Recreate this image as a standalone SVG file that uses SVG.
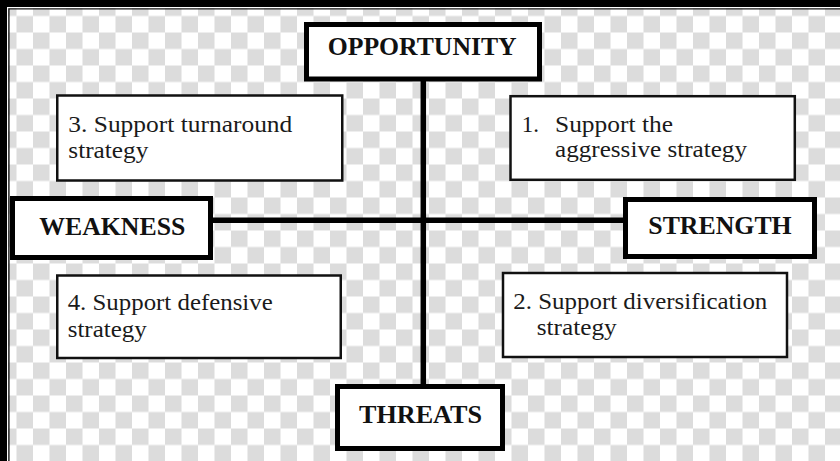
<svg xmlns="http://www.w3.org/2000/svg" width="840" height="461" viewBox="0 0 840 461">
  <defs>
    <pattern id="checker" patternUnits="userSpaceOnUse" x="0" y="-0.5" width="33" height="33">
      <rect width="33" height="33" fill="#ffffff"/>
      <rect x="0" y="0" width="16.5" height="16.5" fill="#dcdcdc"/>
      <rect x="16.5" y="16.5" width="16.5" height="16.5" fill="#dcdcdc"/>
    </pattern>
  </defs>
  <style>
    .main rect { fill: #ffffff; stroke: #000000; stroke-width: 5; }
    .sub rect { fill: #ffffff; stroke: #111111; stroke-width: 2.5; }
    .title { font-family: "Liberation Serif", "Times New Roman", serif; font-weight: bold; font-size: 25.5px; fill: #111111; }
    .label { font-family: "Liberation Serif", "Times New Roman", serif; font-size: 23px; fill: #1a1a1a; }
    .conn { stroke: #000000; stroke-width: 5.5; fill: none; }
  </style>

  <!-- background -->
  <rect x="0" y="0" width="840" height="461" fill="url(#checker)"/>
  <rect x="0" y="0" width="840" height="7" fill="#000000"/>
  <rect x="0" y="0" width="7" height="461" fill="#000000"/>
  <rect x="7" y="7" width="833" height="1.2" fill="#ffffff"/>
  <rect x="7" y="7" width="1.2" height="454" fill="#ffffff"/>
  <path d="M8.9 461 V8.9 H840" stroke="#1a1a1a" stroke-width="1.4" fill="none"/>

  <!-- connectors -->
  <g id="connectors">
    <line class="conn" x1="423.3" y1="80" x2="423.3" y2="386"/>
    <line class="conn" x1="212" y1="220.3" x2="624" y2="220.3"/>
  </g>

  <!-- main nodes -->
  <g id="opportunity" class="main">
    <rect x="306.5" y="24.5" width="233" height="54.5"/>
    <text class="title" x="327.7" y="55" textLength="189" lengthAdjust="spacingAndGlyphs">OPPORTUNITY</text>
  </g>
  <g id="weakness" class="main">
    <rect x="12.5" y="198.5" width="198" height="59"/>
    <text class="title" x="39.3" y="235" textLength="146" lengthAdjust="spacingAndGlyphs">WEAKNESS</text>
  </g>
  <g id="strength" class="main">
    <rect x="625.5" y="199.5" width="189" height="57"/>
    <text class="title" x="648.3" y="234.3" textLength="143.4" lengthAdjust="spacingAndGlyphs">STRENGTH</text>
  </g>
  <g id="threats" class="main">
    <rect x="337.5" y="386.5" width="165" height="62"/>
    <text class="title" x="359" y="422.5" textLength="123" lengthAdjust="spacingAndGlyphs">THREATS</text>
  </g>

  <!-- strategy nodes -->
  <g id="turnaround" class="sub">
    <rect x="57.25" y="95.5" width="285" height="85"/>
    <text class="label" x="68.3" y="131.7" textLength="224" lengthAdjust="spacingAndGlyphs">3. Support turnaround</text>
    <text class="label" x="68.3" y="157.7" textLength="80" lengthAdjust="spacingAndGlyphs">strategy</text>
  </g>
  <g id="aggressive" class="sub">
    <rect x="510.5" y="96.2" width="284.3" height="83.6"/>
    <text class="label" x="521.7" y="131.7">1.</text>
    <text class="label" x="555" y="131.7" textLength="118" lengthAdjust="spacingAndGlyphs">Support the</text>
    <text class="label" x="555" y="156.7" textLength="192" lengthAdjust="spacingAndGlyphs">aggressive strategy</text>
  </g>
  <g id="defensive" class="sub">
    <rect x="57.25" y="275.5" width="283.5" height="82.5"/>
    <text class="label" x="67.7" y="310" textLength="205" lengthAdjust="spacingAndGlyphs">4. Support defensive</text>
    <text class="label" x="67.7" y="336.7" textLength="79" lengthAdjust="spacingAndGlyphs">strategy</text>
  </g>
  <g id="diversification" class="sub">
    <rect x="503" y="273" width="284" height="84"/>
    <text class="label" x="513.3" y="309.3" textLength="254" lengthAdjust="spacingAndGlyphs">2. Support diversification</text>
    <text class="label" x="536.7" y="335" textLength="80" lengthAdjust="spacingAndGlyphs">strategy</text>
  </g>
</svg>
